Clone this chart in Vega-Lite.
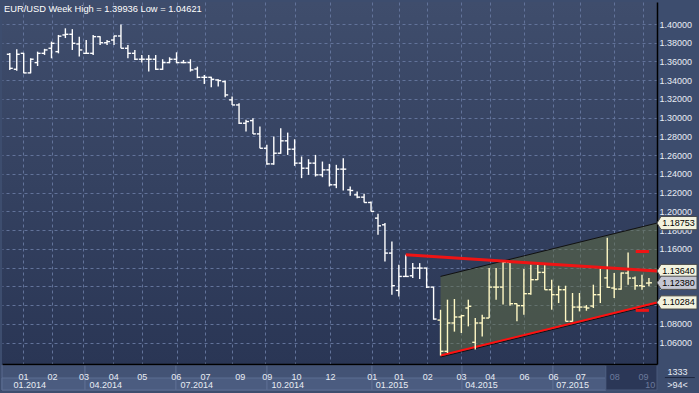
{
  "$schema": "https://vega.github.io/schema/vega-lite/v6.json",
  "width": 655,
  "height": 362,
  "autosize": "none",
  "padding": {"left": 2, "top": 2, "right": 42, "bottom": 29},
  "background": "#3d4d6e",
  "view": {"stroke": null, "fill": {"gradient": "linear", "x1": 0, "y1": 0, "x2": 0, "y2": 1, "stops": [{"offset": 0, "color": "#3f4d6c"}, {"offset": 1, "color": "#2a3655"}]}},
  "config": {"font": "Liberation Sans"},
  "datasets": {
    "bars": [
      {"i":0,"o":1.3677,"h":1.3690,"l":1.3510,"c":1.3527},
      {"i":1,"o":1.3517,"h":1.3730,"l":1.3502,"c":1.3677},
      {"i":2,"o":1.3687,"h":1.3692,"l":1.3474,"c":1.3478},
      {"i":3,"o":1.3478,"h":1.3634,"l":1.3474,"c":1.3624},
      {"i":4,"o":1.3588,"h":1.3705,"l":1.3552,"c":1.3687},
      {"i":5,"o":1.3687,"h":1.3735,"l":1.3670,"c":1.3723},
      {"i":6,"o":1.3741,"h":1.3812,"l":1.3634,"c":1.3794},
      {"i":7,"o":1.3705,"h":1.3883,"l":1.3687,"c":1.3870},
      {"i":8,"o":1.3883,"h":1.3954,"l":1.3850,"c":1.3890},
      {"i":9,"o":1.3890,"h":1.3945,"l":1.3723,"c":1.3794},
      {"i":10,"o":1.3787,"h":1.3865,"l":1.3652,"c":1.3723},
      {"i":11,"o":1.3687,"h":1.3829,"l":1.3680,"c":1.3687},
      {"i":12,"o":1.3687,"h":1.3883,"l":1.3669,"c":1.3865},
      {"i":13,"o":1.3865,"h":1.3870,"l":1.3776,"c":1.3800},
      {"i":14,"o":1.3800,"h":1.3829,"l":1.3776,"c":1.3812},
      {"i":15,"o":1.3829,"h":1.3875,"l":1.3776,"c":1.3872},
      {"i":16,"o":1.3872,"h":1.3994,"l":1.3741,"c":1.3741},
      {"i":17,"o":1.3741,"h":1.3776,"l":1.3634,"c":1.3687},
      {"i":18,"o":1.3687,"h":1.3723,"l":1.3616,"c":1.3624},
      {"i":19,"o":1.3624,"h":1.3669,"l":1.3588,"c":1.3624},
      {"i":20,"o":1.3624,"h":1.3669,"l":1.3492,"c":1.3624},
      {"i":21,"o":1.3624,"h":1.3669,"l":1.3510,"c":1.3517},
      {"i":22,"o":1.3517,"h":1.3624,"l":1.3510,"c":1.3588},
      {"i":23,"o":1.3588,"h":1.3645,"l":1.3581,"c":1.3624},
      {"i":24,"o":1.3624,"h":1.3698,"l":1.3581,"c":1.3588},
      {"i":25,"o":1.3588,"h":1.3616,"l":1.3581,"c":1.3588},
      {"i":26,"o":1.3588,"h":1.3624,"l":1.3492,"c":1.3510},
      {"i":27,"o":1.3520,"h":1.3545,"l":1.3421,"c":1.3431},
      {"i":28,"o":1.3431,"h":1.3456,"l":1.3360,"c":1.3431},
      {"i":29,"o":1.3431,"h":1.3438,"l":1.3325,"c":1.3410},
      {"i":30,"o":1.3403,"h":1.3410,"l":1.3332,"c":1.3396},
      {"i":31,"o":1.3385,"h":1.3396,"l":1.3218,"c":1.3243},
      {"i":32,"o":1.3190,"h":1.3225,"l":1.3136,"c":1.3136},
      {"i":33,"o":1.3136,"h":1.3154,"l":1.2934,"c":1.2941},
      {"i":34,"o":1.2941,"h":1.2977,"l":1.2852,"c":1.2959},
      {"i":35,"o":1.2969,"h":1.2994,"l":1.2827,"c":1.2827},
      {"i":36,"o":1.2827,"h":1.2905,"l":1.2674,"c":1.2674},
      {"i":37,"o":1.2674,"h":1.2710,"l":1.2497,"c":1.2507},
      {"i":38,"o":1.2507,"h":1.2799,"l":1.2497,"c":1.2621},
      {"i":39,"o":1.2621,"h":1.2888,"l":1.2614,"c":1.2753},
      {"i":40,"o":1.2753,"h":1.2841,"l":1.2603,"c":1.2664},
      {"i":41,"o":1.2664,"h":1.2770,"l":1.2486,"c":1.2515},
      {"i":42,"o":1.2515,"h":1.2586,"l":1.2355,"c":1.2461},
      {"i":43,"o":1.2461,"h":1.2557,"l":1.2390,"c":1.2515},
      {"i":44,"o":1.2515,"h":1.2603,"l":1.2372,"c":1.2390},
      {"i":45,"o":1.2390,"h":1.2532,"l":1.2365,"c":1.2443},
      {"i":46,"o":1.2443,"h":1.2507,"l":1.2266,"c":1.2284},
      {"i":47,"o":1.2284,"h":1.2497,"l":1.2248,"c":1.2451},
      {"i":48,"o":1.2451,"h":1.2568,"l":1.2223,"c":1.2451},
      {"i":49,"o":1.2230,"h":1.2266,"l":1.2166,"c":1.2223},
      {"i":50,"o":1.2177,"h":1.2213,"l":1.2141,"c":1.2152},
      {"i":51,"o":1.2152,"h":1.2188,"l":1.2095,"c":1.2095},
      {"i":52,"o":1.2095,"h":1.2106,"l":1.2000,"c":1.2000},
      {"i":53,"o":1.1928,"h":1.1974,"l":1.1750,"c":1.1846},
      {"i":54,"o":1.1857,"h":1.1875,"l":1.1466,"c":1.1555},
      {"i":55,"o":1.1555,"h":1.1679,"l":1.1111,"c":1.1207},
      {"i":56,"o":1.1157,"h":1.1431,"l":1.1093,"c":1.1306},
      {"i":57,"o":1.1306,"h":1.1537,"l":1.1299,"c":1.1306},
      {"i":58,"o":1.1313,"h":1.1448,"l":1.1288,"c":1.1395},
      {"i":59,"o":1.1395,"h":1.1448,"l":1.1278,"c":1.1395},
      {"i":60,"o":1.1395,"h":1.1400,"l":1.1182,"c":1.1192},
      {"i":61,"o":1.1192,"h":1.1195,"l":1.0844,"c":1.0851},
      {"i":62,"o":1.0840,"h":1.0950,"l":1.0462,"c":1.0507},
      {"i":63,"o":1.0507,"h":1.1058,"l":1.0489,"c":1.0809},
      {"i":64,"o":1.0809,"h":1.1065,"l":1.0717,"c":1.0873},
      {"i":65,"o":1.0873,"h":1.0897,"l":1.0702,"c":1.0887},
      {"i":66,"o":1.0969,"h":1.1058,"l":1.0773,"c":1.0987},
      {"i":67,"o":1.0603,"h":1.0862,"l":1.0525,"c":1.0809},
      {"i":68,"o":1.0809,"h":1.0898,"l":1.0666,"c":1.0862},
      {"i":69,"o":1.0862,"h":1.1395,"l":1.0862,"c":1.1192},
      {"i":70,"o":1.1192,"h":1.1395,"l":1.1058,"c":1.1192},
      {"i":71,"o":1.1192,"h":1.1466,"l":1.1006,"c":1.1456},
      {"i":72,"o":1.1456,"h":1.1460,"l":1.0994,"c":1.1015},
      {"i":73,"o":1.1015,"h":1.1018,"l":1.0827,"c":1.0994},
      {"i":74,"o":1.0994,"h":1.1385,"l":1.0898,"c":1.1122},
      {"i":75,"o":1.1122,"h":1.1431,"l":1.1111,"c":1.1271},
      {"i":76,"o":1.1271,"h":1.1431,"l":1.1268,"c":1.1349},
      {"i":77,"o":1.1349,"h":1.1431,"l":1.1164,"c":1.1164},
      {"i":78,"o":1.1164,"h":1.1271,"l":1.0951,"c":1.1111},
      {"i":79,"o":1.1111,"h":1.1207,"l":1.1022,"c":1.1164},
      {"i":80,"o":1.1164,"h":1.1207,"l":1.0827,"c":1.0827},
      {"i":81,"o":1.0827,"h":1.1129,"l":1.0824,"c":1.0979},
      {"i":82,"o":1.0979,"h":1.1129,"l":1.0933,"c":1.0979},
      {"i":83,"o":1.0979,"h":1.1001,"l":1.0940,"c":1.0969},
      {"i":84,"o":1.0990,"h":1.1218,"l":1.0969,"c":1.1111},
      {"i":85,"o":1.1111,"h":1.1398,"l":1.1022,"c":1.1395},
      {"i":86,"o":1.1290,"h":1.1719,"l":1.1182,"c":1.1190},
      {"i":87,"o":1.1182,"h":1.1342,"l":1.1075,"c":1.1171},
      {"i":88,"o":1.1171,"h":1.1349,"l":1.1164,"c":1.1342},
      {"i":89,"o":1.1342,"h":1.1562,"l":1.1217,"c":1.1288},
      {"i":90,"o":1.1288,"h":1.1306,"l":1.1164,"c":1.1207},
      {"i":91,"o":1.1207,"h":1.1324,"l":1.1164,"c":1.1200},
      {"i":92,"o":1.1235,"h":1.1288,"l":1.1200,"c":1.1238}
    ],
    "channel": [{"i":62,"lo":1.0462,"hi":1.1306},{"i":93.16,"lo":1.10284,"hi":1.18753}],
    "resistance": [{"i":57,"p":1.1537},{"i":93.16,"p":1.1364}],
    "levels": [{"a":90.1,"b":92.0,"p":1.1572},{"a":90.1,"b":92.0,"p":1.0944}],
    "pricetags": [{"p":1.18753,"t":"1.18753"},{"p":1.1364,"t":"1.13640"},{"p":1.1238,"t":"1.12380"},{"p":1.10284,"t":"1.10284"}],
    "panels": [{"a":-1.123,"b":10.83},{"a":10.83,"b":23.92},{"a":23.92,"b":37.02},{"a":37.02,"b":52.14},{"a":52.14,"b":65.1},{"a":65.1,"b":78.19},{"a":78.19,"b":85.8}],
    "current": [{"a":85.8,"b":93.16}],
    "corner": [{"t":"1333","p":1.0286},{"t":">94<","p":1.01473}],
    "caption": [{"t":"EUR/USD Week High = 1.39936 Low = 1.04621"}]
  },
  "layer": [
    {
      "data": {"name": "panels"},
      "mark": {"type": "rect", "fill": "#435375", "stroke": "#5a6b8f", "strokeWidth": 1},
      "encoding": {
        "x": {"field": "a", "type": "quantitative", "scale": {"domain": [-1.123, 93.16], "nice": false, "zero": false},
          "axis": {"orient": "bottom", "values": [0.45, 11.4, 24.5, 37.6, 52.6, 65.5, 78.6, 91.4],
            "labelExpr": "['01.2014','04.2014','07.2014','10.2014','01.2015','04.2015','07.2015','10'][indexof([0.45, 11.4, 24.5, 37.6, 52.6, 65.5, 78.6, 91.4], datum.value)]",
            "labelAlign": "left", "labelPadding": 16, "labelFont": "Liberation Sans", "labelFontSize": 9,
            "labelColor": {"condition": {"test": "datum.value > 85", "value": "#6c7a9c"}, "value": "#e8ecf4"},
            "labelOverlap": false, "labelFlush": false, "labelBound": false,
            "domain": false, "ticks": false, "grid": false, "title": null, "zindex": 1}},
        "x2": {"field": "b"},
        "y": {"datum": 1.03607, "type": "quantitative", "scale": {"domain": [1.03714, 1.42348], "nice": false, "zero": false},
          "axis": {"orient": "right", "values": [1.06, 1.08, 1.1, 1.12, 1.14, 1.16, 1.18, 1.2, 1.22, 1.24, 1.26, 1.28, 1.3, 1.32, 1.34, 1.36, 1.38, 1.4],
            "format": ".5f", "grid": true, "gridColor": "#62739a", "gridDash": [3, 3], "gridWidth": 1,
            "labelColor": "#e8ecf4", "labelFont": "Liberation Sans", "labelFontSize": 9, "labelPadding": 2,
            "ticks": false, "domain": true, "domainColor": "#000000", "domainWidth": 1.5, "title": null,
            "labelOverlap": false, "labelFlush": false, "labelBound": false, "zindex": 0}},
        "y2": {"datum": 1.0094}
      }
    },
    {
      "data": {"name": "panels"},
      "mark": {"type": "rect", "fill": "#4b5c80", "stroke": "#5d6e92", "strokeWidth": 1},
      "encoding": {
        "x": {"field": "a", "type": "quantitative", "scale": {"domain": [-1.123, 93.16], "nice": false, "zero": false}, "axis": null},
        "x2": {"field": "b"},
        "y": {"datum": 1.02219, "type": "quantitative", "scale": {"domain": [1.03714, 1.42348], "nice": false, "zero": false}, "axis": null},
        "y2": {"datum": 1.0094}
      }
    },
    {
      "data": {"name": "current"},
      "mark": {"type": "rect", "fill": "#2b3757", "stroke": "#4a5a7c", "strokeWidth": 1},
      "encoding": {
        "x": {"field": "a", "type": "quantitative", "scale": {"domain": [-1.123, 93.16], "nice": false, "zero": false}, "axis": null},
        "x2": {"field": "b"},
        "y": {"datum": 1.03607, "type": "quantitative", "scale": {"domain": [1.03714, 1.42348], "nice": false, "zero": false}, "axis": null},
        "y2": {"datum": 1.0094}
      }
    },
    {
      "data": {"name": "channel"},
      "mark": {"type": "area", "color": "#647040", "opacity": 0.5},
      "encoding": {
        "x": {"field": "i", "type": "quantitative", "scale": {"domain": [-1.123, 93.16], "nice": false, "zero": false}, "axis": null},
        "y": {"field": "hi", "type": "quantitative", "scale": {"domain": [1.03714, 1.42348], "nice": false, "zero": false}, "axis": null},
        "y2": {"field": "lo"}
      }
    },
    {
      "data": {"name": "channel"},
      "mark": {"type": "line", "color": "#111111", "strokeWidth": 1},
      "encoding": {
        "x": {"field": "i", "type": "quantitative", "scale": {"domain": [-1.123, 93.16], "nice": false, "zero": false}, "axis": null},
        "y": {"field": "hi", "type": "quantitative", "scale": {"domain": [1.03714, 1.42348], "nice": false, "zero": false}, "axis": null}
      }
    },
    {
      "data": {"name": "channel"},
      "mark": {"type": "line", "color": "#111111", "strokeWidth": 1, "yOffset": 1.5},
      "encoding": {
        "x": {"field": "i", "type": "quantitative", "scale": {"domain": [-1.123, 93.16], "nice": false, "zero": false}, "axis": null},
        "y": {"field": "lo", "type": "quantitative", "scale": {"domain": [1.03714, 1.42348], "nice": false, "zero": false}, "axis": null}
      }
    },
    {
      "data": {"name": "channel"},
      "mark": {"type": "line", "color": "#ff1010", "strokeWidth": 2},
      "encoding": {
        "x": {"field": "i", "type": "quantitative", "scale": {"domain": [-1.123, 93.16], "nice": false, "zero": false}, "axis": null},
        "y": {"field": "lo", "type": "quantitative", "scale": {"domain": [1.03714, 1.42348], "nice": false, "zero": false}, "axis": null}
      }
    },
    {
      "data": {"name": "bars"},
      "mark": {"type": "rule", "strokeWidth": 1.4},
      "encoding": {
        "x": {"field": "i", "type": "quantitative", "scale": {"domain": [-1.123, 93.16], "nice": false, "zero": false},
          "axis": {"orient": "bottom", "values": [1.9, 6.07, 10.54, 14.86, 19.03, 24.07, 28.1, 32.0, 36.7, 41.05, 46.1, 52.14, 56.0, 60.05, 64.95, 69.12, 74.02, 78.19, 82.08, 86.98, 91.15],
            "grid": true, "gridColor": "#62739a", "gridDash": [3, 3], "gridWidth": 1, "labels": false, "ticks": false, "domain": false, "title": null, "zindex": 0}},
        "y": {"field": "l", "type": "quantitative", "scale": {"domain": [1.03714, 1.42348], "nice": false, "zero": false}, "axis": null},
        "y2": {"field": "h"},
        "color": {"condition": {"test": "datum.i >= 62", "value": "#fff8c4"}, "value": "#ffffff"}
      }
    },
    {
      "data": {"name": "bars"},
      "mark": {"type": "rule", "strokeWidth": 1.4, "xOffset": -3},
      "encoding": {
        "x": {"field": "i", "type": "quantitative", "scale": {"domain": [-1.123, 93.16], "nice": false, "zero": false},
          "axis": {"orient": "bottom", "values": [1.9, 6.07, 10.6, 14.9, 19.0, 23.9, 28.1, 33.1, 37.0, 41.2, 46.1, 52.1, 56.0, 60.1, 64.95, 69.1, 74.0, 78.2, 82.1, 87.0, 91.15],
            "labelExpr": "['01','02','03','04','05','06','07','09','09','10','12','01','01','02','03','04','06','06','07','08','09'][indexof([1.9, 6.07, 10.6, 14.9, 19.0, 23.9, 28.1, 33.1, 37.0, 41.2, 46.1, 52.1, 56.0, 60.1, 64.95, 69.1, 74.0, 78.2, 82.1, 87.0, 91.15], datum.value)]",
            "labelColor": {"condition": {"test": "datum.value > 85", "value": "#6c7a9c"}, "value": "#e8ecf4"},
            "labelFont": "Liberation Sans", "labelFontSize": 9, "labelPadding": 8,
            "labelOverlap": false, "labelFlush": false, "labelBound": false,
            "ticks": false, "domain": true, "domainColor": "#000000", "domainWidth": 1.5, "grid": false, "title": null, "zindex": 1}},
        "x2": {"field": "i"},
        "y": {"field": "o", "type": "quantitative", "scale": {"domain": [1.03714, 1.42348], "nice": false, "zero": false}, "axis": null},
        "color": {"condition": {"test": "datum.i >= 62", "value": "#fff8c4"}, "value": "#ffffff"}
      }
    },
    {
      "data": {"name": "bars"},
      "mark": {"type": "rule", "strokeWidth": 1.4, "x2Offset": 3},
      "encoding": {
        "x": {"field": "i", "type": "quantitative", "scale": {"domain": [-1.123, 93.16], "nice": false, "zero": false}, "axis": null},
        "x2": {"field": "i"},
        "y": {"field": "c", "type": "quantitative", "scale": {"domain": [1.03714, 1.42348], "nice": false, "zero": false}, "axis": null},
        "color": {"condition": {"test": "datum.i >= 62", "value": "#fff8c4"}, "value": "#ffffff"}
      }
    },
    {
      "data": {"name": "resistance"},
      "mark": {"type": "line", "color": "#f01414", "strokeWidth": 3},
      "encoding": {
        "x": {"field": "i", "type": "quantitative", "scale": {"domain": [-1.123, 93.16], "nice": false, "zero": false}, "axis": null},
        "y": {"field": "p", "type": "quantitative", "scale": {"domain": [1.03714, 1.42348], "nice": false, "zero": false}, "axis": null}
      }
    },
    {
      "data": {"name": "levels"},
      "mark": {"type": "rule", "color": "#f01414", "strokeWidth": 3},
      "encoding": {
        "x": {"field": "a", "type": "quantitative", "scale": {"domain": [-1.123, 93.16], "nice": false, "zero": false}, "axis": null},
        "x2": {"field": "b"},
        "y": {"field": "p", "type": "quantitative", "scale": {"domain": [1.03714, 1.42348], "nice": false, "zero": false}, "axis": null}
      }
    },
    {
      "data": {"name": "pricetags"},
      "mark": {"type": "point", "shape": "M-1,0L-0.8,-0.33L1,-0.33L1,0.33L-0.8,0.33Z", "size": 1600, "filled": true, "stroke": "#4a4a4a", "strokeWidth": 1, "opacity": 1},
      "encoding": {
        "x": {"datum": 96.04, "type": "quantitative", "scale": {"domain": [-1.123, 93.16], "nice": false, "zero": false}, "axis": null},
        "y": {"field": "p", "type": "quantitative", "scale": {"domain": [1.03714, 1.42348], "nice": false, "zero": false}, "axis": null},
        "fill": {"condition": {"test": "datum.t === '1.12380'", "value": "#c4c6d2"}, "value": "#f2f2de"}
      }
    },
    {
      "data": {"name": "pricetags"},
      "mark": {"type": "text", "font": "Liberation Sans", "fontSize": 9, "color": "#000000", "align": "center", "baseline": "middle", "dx": 1.5},
      "encoding": {
        "x": {"datum": 96.04, "type": "quantitative", "scale": {"domain": [-1.123, 93.16], "nice": false, "zero": false}, "axis": null},
        "y": {"field": "p", "type": "quantitative", "scale": {"domain": [1.03714, 1.42348], "nice": false, "zero": false}, "axis": null},
        "text": {"field": "t"}
      }
    },
    {
      "data": {"name": "corner"},
      "mark": {"type": "text", "font": "Liberation Sans", "fontSize": 9, "color": "#e8ecf4", "align": "center", "baseline": "middle"},
      "encoding": {
        "x": {"datum": 96.1, "type": "quantitative", "scale": {"domain": [-1.123, 93.16], "nice": false, "zero": false}, "axis": null},
        "y": {"field": "p", "type": "quantitative", "scale": {"domain": [1.03714, 1.42348], "nice": false, "zero": false}, "axis": null},
        "text": {"field": "t"}
      }
    },
    {
      "data": {"values": [{}]},
      "mark": {"type": "rule", "color": "#1e2840", "strokeWidth": 1},
      "encoding": {
        "x": {"datum": 94.3, "type": "quantitative", "scale": {"domain": [-1.123, 93.16], "nice": false, "zero": false}, "axis": null},
        "x2": {"datum": 98.6},
        "y": {"datum": 1.02267, "type": "quantitative", "scale": {"domain": [1.03714, 1.42348], "nice": false, "zero": false}, "axis": null}
      }
    },
    {
      "data": {"name": "caption"},
      "mark": {"type": "text", "font": "Liberation Sans", "fontSize": 9.3, "color": "#ffffff", "align": "left", "baseline": "alphabetic"},
      "encoding": {
        "x": {"datum": -0.835, "type": "quantitative", "scale": {"domain": [-1.123, 93.16], "nice": false, "zero": false}, "axis": null},
        "y": {"datum": 1.41281, "type": "quantitative", "scale": {"domain": [1.03714, 1.42348], "nice": false, "zero": false}, "axis": null},
        "text": {"field": "t"}
      }
    }
  ],
  "resolve": {"axis": {"x": "independent", "y": "independent"}}
}
